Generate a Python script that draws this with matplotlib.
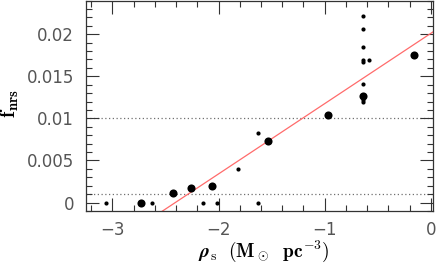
import matplotlib
matplotlib.use('Agg')
import matplotlib.pyplot as plt
from matplotlib.ticker import MultipleLocator, FixedLocator, FuncFormatter

plt.rcParams['mathtext.fontset'] = 'cm'

# log stellar density and f_nrs, big markers and small markers
rho_big = [-2.73, -2.43, -2.26, -2.06, -1.53, -0.97, -0.635, -0.16]
f_big = [0.0, 0.0011, 0.0017, 0.0020, 0.00726, 0.0104, 0.0126, 0.01758]

rho_small = [-3.06, -2.63, -2.15, -2.01, -1.82, -1.63, -1.63,
             -0.635, -0.635, -0.635, -0.635, -0.585, -0.635, -0.635, -0.635, -0.635]
f_small = [0.0, 0.0, 0.0, 0.0, 0.0040, 0.0, 0.0083,
           0.02214, 0.02063, 0.01849, 0.01698, 0.01698, 0.01667, 0.01413, 0.01214, 0.01194]

# fitted line f = a + b*rho
fit_a = 0.0201
fit_b = 0.00835
fit_x = [-3.3, 0.05]

ref_levels = [0.001, 0.01]

fig = plt.figure(figsize=(4.36, 2.64), dpi=100)
ax = fig.add_axes([0.197, 0.201, 0.796, 0.797])

for lev in ref_levels:
    ax.axhline(lev, color='#707070', ls=(0, (1, 2)), lw=0.9, zorder=1)

ax.plot(fit_x, [fit_a + fit_b * x for x in fit_x], color='#ff6b6b', lw=0.9, zorder=2)

ax.scatter(rho_big, f_big, s=34, color='black', lw=0, zorder=3)
ax.scatter(rho_small, f_small, s=9, color='black', lw=0, zorder=3)

ax.set_xlim(-3.25, 0.02)
ax.set_ylim(-0.001, 0.024)

ax.xaxis.set_major_locator(FixedLocator([-3, -2, -1, 0]))
ax.xaxis.set_minor_locator(MultipleLocator(0.2))
ax.yaxis.set_major_locator(FixedLocator([0, 0.005, 0.01, 0.015, 0.02]))
ax.yaxis.set_minor_locator(MultipleLocator(0.001))
ax.xaxis.set_major_formatter(FuncFormatter(lambda v, p: '0' if v == 0 else '\u2212%d' % abs(v)))
ax.yaxis.set_major_formatter(FuncFormatter(lambda v, p: ('%g' % v)))

ax.tick_params(which='both', direction='in', top=True, right=True, width=0.8, colors='#333333',
               labelcolor='#555555', labelsize=12)
ax.tick_params(which='major', length=9.4)
ax.tick_params(which='minor', length=4.3)
ax.tick_params(axis='x', pad=7)
ax.tick_params(axis='y', pad=8.5)
for sp in ax.spines.values():
    sp.set_linewidth(0.9)
    sp.set_color('#333333')

ax.set_ylabel(r'$\mathbf{f}_{\mathbf{nrs}}$', fontsize=15)
ax.yaxis.set_label_coords(-0.186, 0.51)
ax.set_xlabel(r'$\boldsymbol{\rho}_{\rm s}\ \ (\mathbf{M}_\odot\ \ \mathbf{pc}^{-3})$', fontsize=14)
ax.xaxis.label.set_va('baseline')
ax.xaxis.set_label_coords(0.512, -0.221)

fig.savefig('out.png', dpi=100)
